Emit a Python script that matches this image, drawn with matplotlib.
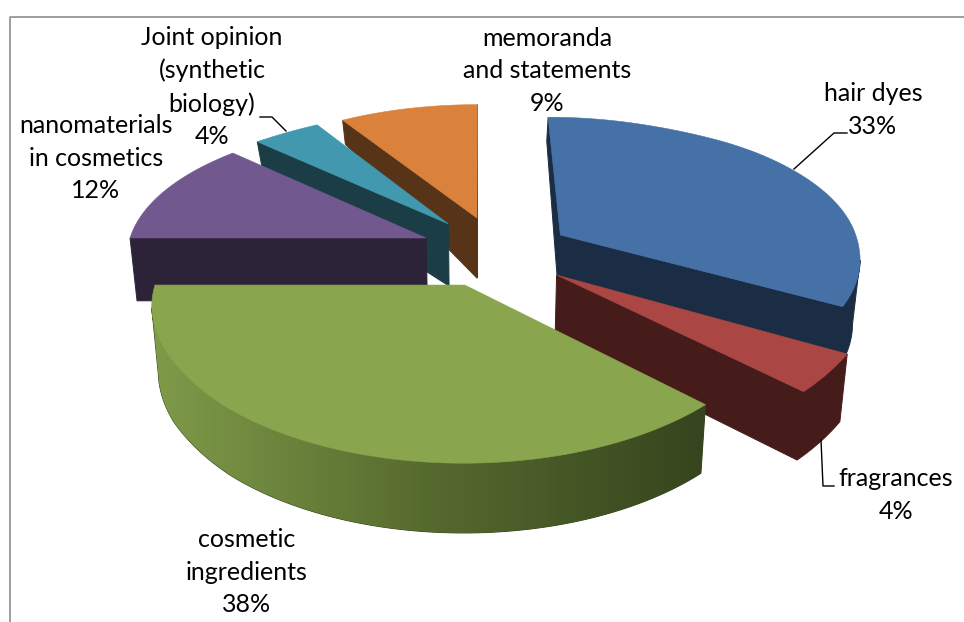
import numpy as np
import matplotlib
matplotlib.use('Agg')
import matplotlib.pyplot as plt
from matplotlib.colors import LinearSegmentedColormap

# Chart values
names = ['hair dyes', 'fragrances', 'cosmetic\ningredients',
         'nanomaterials\nin cosmetics', 'Joint opinion\n(synthetic\nbiology)',
         'memoranda\nand statements']
shares = [33, 4, 38, 12, 4, 9]

# Colours of the top faces and the dark side walls
top_colors = ['#4571A7', '#AA4643', '#89A54E', '#71588F', '#4198AF', '#DA813C']
side_colors = ['#1B2C45', '#451C1A', '#36451E', '#2D2339', '#1A3D46', '#573418']

# How far each slice is pulled out, in units of the pie radius (across, towards viewer)
pull_u = [0.272, 0.2495, -0.049, -0.1816, -0.108, -0.0105]
pull_v = [-0.1075, 0.171, 0.237, -0.0857, -0.189, -0.234]

# Label centres in pixels
label_x = [873, 896, 247, 96, 212, 547]
label_y = [110, 495, 572, 158, 87, 71]

# Perspective set-up of the pie
X0, Y0 = 480, 250
RX, RY = 296, 142
P = 0.1666
scale_v = [-1.25, -1.03, -0.87, -0.77, -0.09, 0.0, 0.375, 0.653, 0.855, 0.92, 1.3]
scale_x = [0.83, 0.855, 0.90, 0.917, 1.0, 1.012, 1.067, 1.102, 1.117, 1.12, 1.15]
depth_v = [-1.3, -0.87, -0.2, 0.5, 1.3]
depth_px = [24, 24, 62, 67, 70]


def project(u, v):
    sy = np.minimum(1 / (1 - P * v), 1.09 + 0.1 * v)
    return X0 + RX * u * np.interp(v, scale_v, scale_x), Y0 + RY * v * sy


def project_low(u, v):
    # the same point on the underside of the pie
    x, y = project(u, v)
    return X0 + (x - X0) * 0.98, y + np.interp(v, depth_v, depth_px)


fig = plt.figure(figsize=(9.64, 6.22), dpi=100)
ax = fig.add_axes([0, 0, 1, 1])
ax.axis('off')

# Chart frame, cut off at right and bottom
ax.plot([9.5, 9.5, 964], [622, 16.5, 16.5], color='#8E8E8E', lw=1.2, zorder=1)

green_ramp = LinearSegmentedColormap.from_list('ramp', ['#7F9B49', '#566A2E', '#36451E'])

edges = np.cumsum([0] + shares) / sum(shares) * 2 * np.pi
z = 2
# Slices go from the back of the pie to the front
for i in [5, 4, 3, 0, 1, 2]:
    t = np.linspace(edges[i], edges[i + 1], 200)
    u = pull_u[i] + np.sin(t)
    v = pull_v[i] - np.cos(t)
    xt, yt = project(u, v)
    xb, yb = project_low(u, v)

    # Outer wall, only the part that faces the viewer (x falls as the angle grows)
    front = np.gradient(xt) < 0
    if front.sum() > 1:
        wall = ax.fill(np.r_[xt[front], xb[front][::-1]], np.r_[yt[front], yb[front][::-1]],
                       color=side_colors[i], lw=0.7, zorder=z)[0]
        if i == 2:
            # the big front slice has a left to right shading
            im = ax.imshow(np.linspace(0, 1, 256)[None, :], cmap=green_ramp, aspect='auto',
                           extent=(xt.min(), xt.max(), yb.max(), yt.min()), zorder=z)
            im.set_clip_path(wall)

    # Cut walls that face the viewer
    ax_, ay_ = project(pull_u[i], pull_v[i])
    bx_, by_ = project_low(pull_u[i], pull_v[i])
    for k, side in [(0, -np.pi / 2), (-1, np.pi / 2)]:
        if -np.cos(t[k] + side) > -1e-6:
            ax.fill([xt[k], ax_, bx_, xb[k]], [yt[k], ay_, by_, yb[k]],
                    color=side_colors[i], lw=0.7, zorder=z)

    # Top face
    ax.fill(np.r_[ax_, xt], np.r_[ay_, yt], color=top_colors[i], lw=0.4, zorder=z + 1)
    z += 2

# Leader lines
ax.plot([794, 834, 847], [169, 133, 133], color='black', lw=1, zorder=20)
ax.plot([821, 823, 834], [440, 486, 486], color='black', lw=1, zorder=20)
ax.plot([260, 272, 286], [117, 117, 131], color='black', lw=1, zorder=20)

# Labels
for name, share, lx, ly in zip(names, shares, label_x, label_y):
    ax.text(lx, ly, f'{name}\n{share}%', ha='center', va='center', family='Lato',
            fontsize=18, linespacing=1.5, color='black', zorder=21)

ax.set_xlim(0, 964)
ax.set_ylim(622, 0)
fig.savefig('out.png', dpi=100)
